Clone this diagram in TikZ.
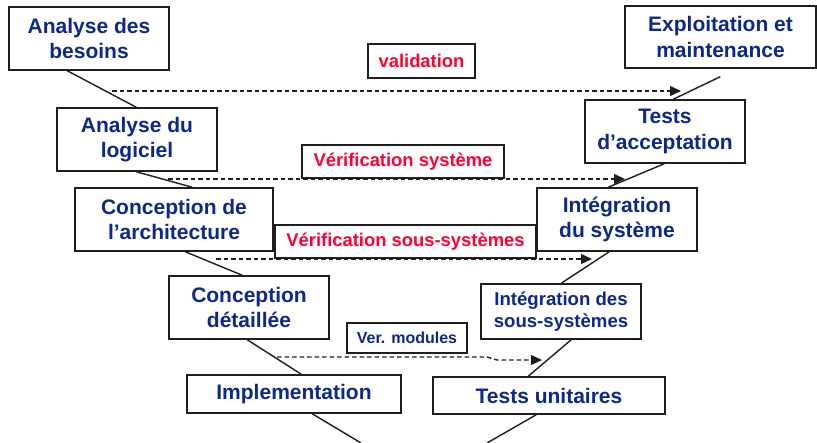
\documentclass[tikz,border=0pt]{standalone}
\usepackage{fontspec}
\setmainfont{Liberation Sans}
\usetikzlibrary{calc,arrows.meta}
\definecolor{navy}{RGB}{12,40,138}
\definecolor{vred}{RGB}{255,0,51}
\definecolor{lin}{RGB}{30,30,30}
\tikzset{
  box/.style={draw=lin, line width=1.5pt, fill=white, inner sep=0pt, align=center,
    text=navy, font=\fontsize{21}{25.5}\selectfont\bfseries},
  redlab/.style={draw=lin, line width=1.5pt, fill=white, inner sep=0pt, align=center,
    text=vred, font=\fontsize{18.4}{22}\selectfont\bfseries},
  conn/.style={draw=lin, line width=1.4pt},
  dasharrow/.style={draw=lin, line width=1.4pt, dash pattern=on 4.5pt off 3pt,
    -{Triangle[length=11pt,width=10pt]}}
}
\begin{document}
\begin{tikzpicture}[x=1pt,y=-1pt]
\useasboundingbox (0,0) rectangle (817,443);
% left branch
\node[box, minimum width=160pt, minimum height=63pt] (besoins) at (89,38.5) {Analyse des\\besoins};
\node[box, minimum width=160pt, minimum height=63pt] (logiciel) at (137,139.5) {Analyse du\\logiciel};
\node[box, minimum width=198pt, minimum height=63pt] (archi) at (174,219.5) {Conception de\\l’architecture};
\node[box, minimum width=160pt, minimum height=63pt] (detail) at (249,307.5) {Conception\\détaillée};
\node[box, minimum width=214pt, minimum height=38pt] (impl) at (294,394) {Implementation};
% right branch
\node[box, minimum width=232pt, minimum height=37pt] (tu) at (549,395.5) {Tests unitaires};
\node[box, minimum width=160pt, minimum height=55pt, font=\fontsize{18.6}{22}\selectfont\bfseries] (iss) at (561,311.5) {Intégration des\\sous-systèmes};
\node[box, minimum width=160pt, minimum height=63pt] (isys) at (617,219.5) {Intégration\\du système};
\node[box, minimum width=160pt, minimum height=63pt] (ta) at (665,131.5) {Tests\\d’acceptation};
\node[box, minimum width=191pt, minimum height=62pt] (exp) at (720.5,37) {Exploitation et\\maintenance};
% V connectors
\coordinate (botL) at (361,443);
\coordinate (botR) at (487,443);
\draw[conn] ($(besoins.south west)+(59,0)$) -- ($(logiciel.north west)+(80,0)$);
\draw[conn] ($(logiciel.south west)+(80,0)$) -- ($(archi.north west)+(118,0)$);
\draw[conn] ($(archi.south west)+(111,0)$) -- ($(detail.north west)+(74,0)$);
\draw[conn] ($(detail.south west)+(79,0)$) -- ($(impl.north west)+(115,0)$);
\draw[conn] ($(impl.south west)+(126,0)$) -- (botL);
\draw[conn] ($(tu.south west)+(104,0)$) -- (botR);
\draw[conn] ($(iss.south west)+(91,0)$) -- ($(tu.north west)+(96,0)$);
\draw[conn] ($(isys.south west)+(73,0)$) -- ($(iss.north west)+(81,0)$);
\draw[conn] ($(ta.south west)+(80,0)$) -- ($(isys.north west)+(72,0)$);
\draw[conn] ($(exp.south west)+(96,8)$) -- ($(ta.north west)+(89,0)$);
% dashed arrows
\coordinate (vaS) at (112,91);   \coordinate (vaE) at (681,91);
\coordinate (vsS) at (168,179);  \coordinate (vsE) at (625,179);
\coordinate (vssS) at (216,259); \coordinate (vssE) at (592,259);
\coordinate (vmS) at (277,357);  \coordinate (vmK1) at (487,357); \coordinate (vmK2) at (497,360); \coordinate (vmE) at (542,360);
\draw[dasharrow] (vaS) -- (vaE);
\draw[dasharrow] (vsS) -- (vsE);
\draw[dasharrow] (vssS) -- (vssE);
\draw[dasharrow] (vmS) -- (vmK1) -- (vmK2) -- (vmE);
% labels
\node[redlab, minimum width=107pt, minimum height=34pt] (lval) at (421.5,61) {validation};
\node[redlab, minimum width=202pt, minimum height=33pt] (lvsys) at (403,161.5) {Vérification système};
\node[redlab, minimum width=261pt, minimum height=33pt] (lvss) at (405.5,241.5) {Vérification sous-systèmes};
\node[redlab, text=navy, minimum width=120pt, minimum height=30pt, font=\fontsize{16}{19}\selectfont\bfseries] (lvmod) at (407,338) {Ver. modules};
\end{tikzpicture}
\end{document}
